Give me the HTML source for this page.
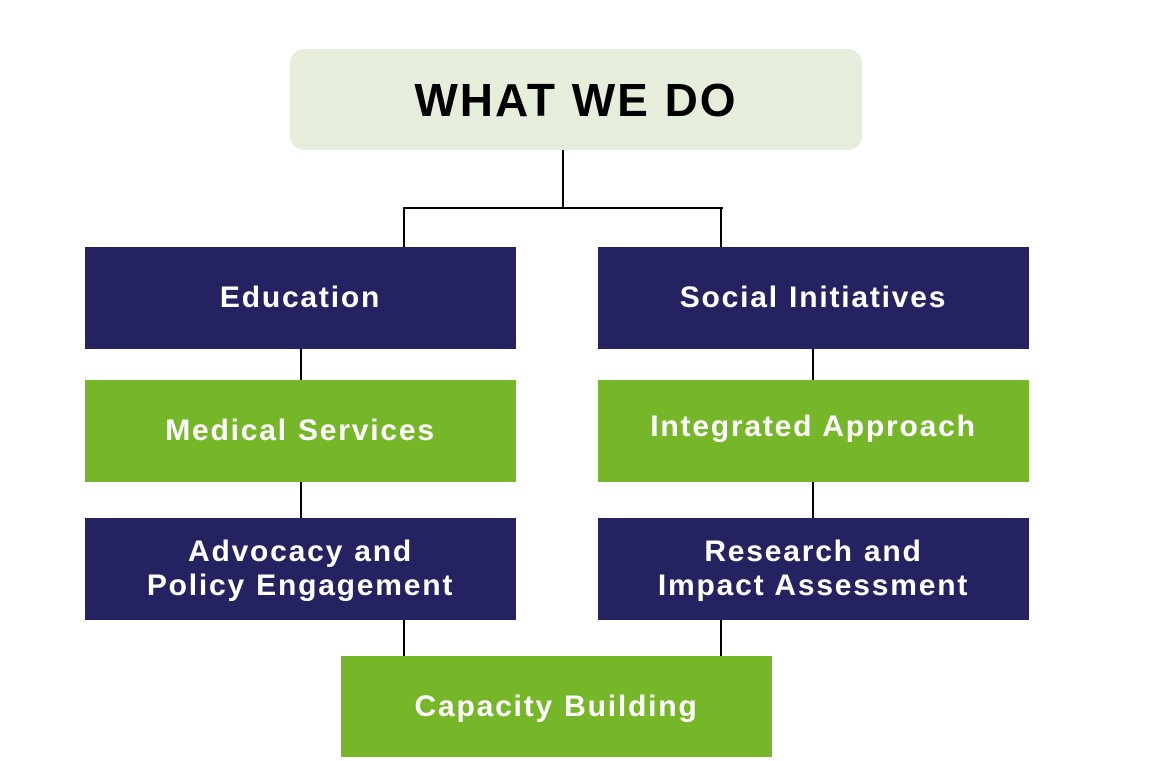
<!DOCTYPE html>
<html><head><style>
body{margin:0;width:1159px;height:761px;background:#fff;position:relative;overflow:hidden;font-family:"Liberation Sans",sans-serif;font-weight:bold}
.b{position:absolute;display:flex;align-items:center;justify-content:center;text-align:center;color:#fff;font-size:30px;letter-spacing:1.8px;line-height:34px}
.n{background:#252262}.g{background:#76b72a}
.l{position:absolute;background:#000}
</style></head><body>
<div class="b" style="left:290px;top:49px;width:572px;height:101px;background:#e5eedb;border-radius:14px;color:#000;font-size:46px;letter-spacing:2px;font-weight:900">WHAT WE DO</div>
<div class="l" style="left:562px;top:150px;width:2px;height:59px"></div>
<div class="l" style="left:403px;top:207px;width:320px;height:2px"></div>
<div class="l" style="left:403px;top:207px;width:2px;height:40px"></div>
<div class="l" style="left:720px;top:207px;width:2px;height:40px"></div>
<div class="b n" style="left:85px;top:247px;width:431px;height:102px">Education</div>
<div class="b n" style="left:598px;top:247px;width:431px;height:102px">Social Initiatives</div>
<div class="l" style="left:300px;top:349px;width:2px;height:31px"></div>
<div class="l" style="left:812px;top:349px;width:2px;height:31px"></div>
<div class="b g" style="left:85px;top:380px;width:431px;height:102px">Medical Services</div>
<div class="b g" style="left:598px;top:380px;width:431px;height:102px;padding-bottom:8px;box-sizing:border-box">Integrated Approach</div>
<div class="l" style="left:300px;top:482px;width:2px;height:36px"></div>
<div class="l" style="left:812px;top:482px;width:2px;height:36px"></div>
<div class="b n" style="left:85px;top:518px;width:431px;height:102px">Advocacy and<br>Policy Engagement</div>
<div class="b n" style="left:598px;top:518px;width:431px;height:102px">Research and<br>Impact Assessment</div>
<div class="l" style="left:403px;top:620px;width:2px;height:36px"></div>
<div class="l" style="left:720px;top:620px;width:2px;height:36px"></div>
<div class="b g" style="left:341px;top:656px;width:431px;height:101px">Capacity Building</div>
</body></html>
